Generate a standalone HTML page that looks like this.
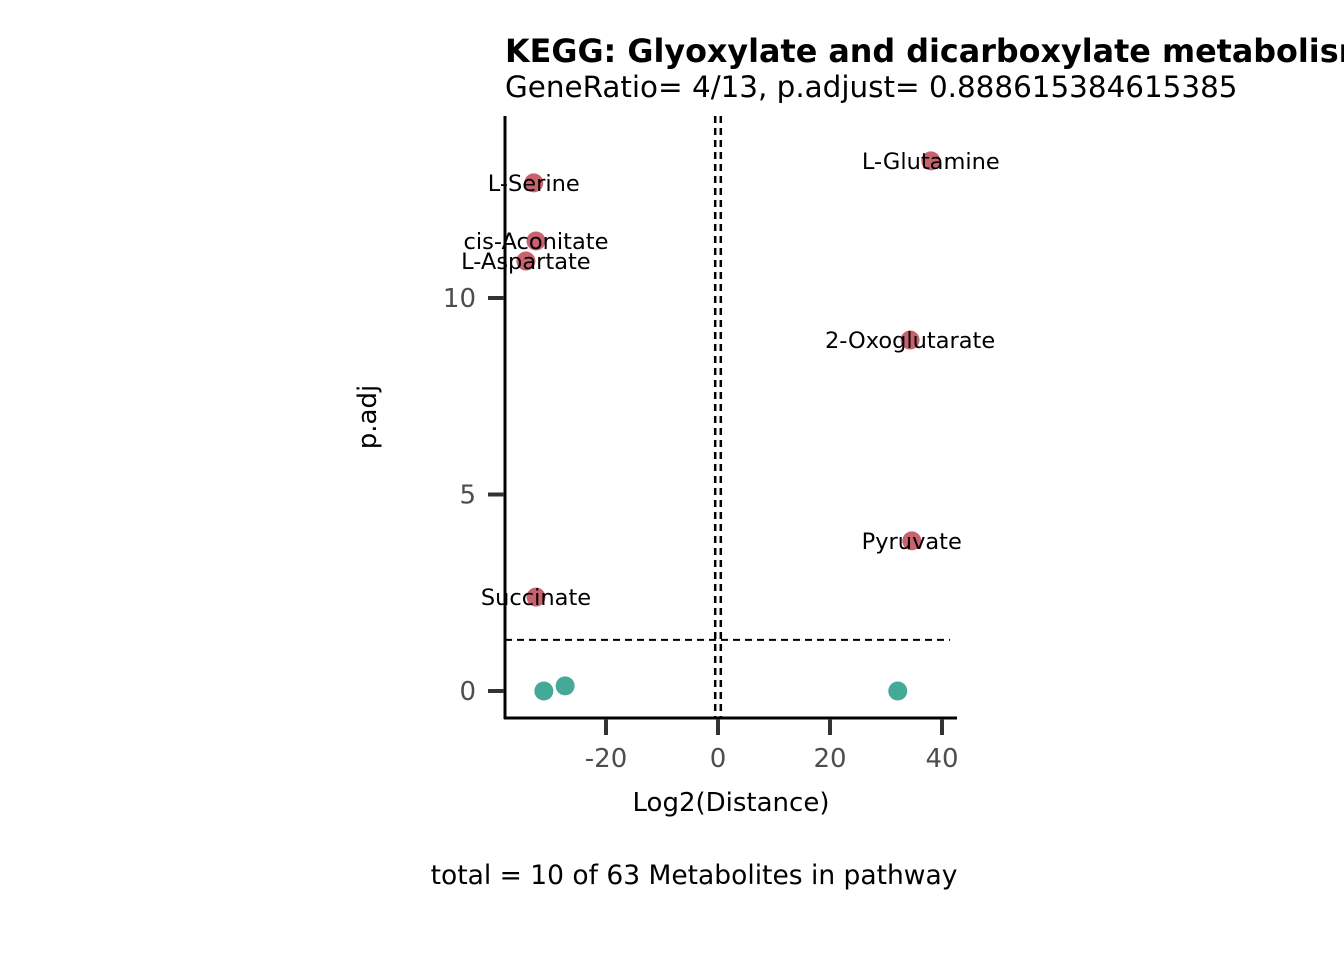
<!DOCTYPE html>
<html><head><meta charset="utf-8"><style>
body{margin:0;background:#fff;}
svg text{font-family:"DejaVu Sans","Liberation Sans",sans-serif;}
</style></head><body>
<svg id="chart" width="1344" height="960" xmlns="http://www.w3.org/2000/svg">
<rect width="1344" height="960" fill="#fff"/>
<text x="505" y="62" font-size="31.8" font-weight="bold">KEGG: Glyoxylate and dicarboxylate metabolism</text>
<text x="505" y="97" font-size="29.4">GeneRatio= 4/13, p.adjust= 0.888615384615385</text>
<g id="ref"></g>
<g id="pts"></g>
<g id="axes">
<line x1="505" y1="116" x2="505" y2="719" stroke="#000" stroke-width="3"/>
<line x1="504" y1="718" x2="957" y2="718" stroke="#000" stroke-width="3"/>
</g>
<text x="731" y="811" font-size="26" text-anchor="middle">Log2(Distance)</text>
<text transform="translate(376,417) rotate(-90)" font-size="26" text-anchor="middle">p.adj</text>
<text x="694" y="884" font-size="26.5" text-anchor="middle">total = 10 of 63 Metabolites in pathway</text>
</svg>
<script>
const names=["L-Serine","cis-Aconitate","L-Aspartate","Succinate","L-Glutamine","2-Oxoglutarate","Pyruvate","","",""];
const xVals=[-32.9,-32.5,-34.3,-32.5,38.0,34.3,34.6,-31.1,-27.3,32.1];
const yVals=[12.93,11.45,10.94,2.39,13.49,8.93,3.82,0.0,0.13,0.0];
const sig=[1,1,1,1,1,1,1,0,0,0];
const xTicks=[-20,0,20,40];
const yTicks=[0,5,10];
const hThresh=1.3, vThresh=0.5;
const X=v=>718+v*5.6, Y=v=>691-v*39.3;
const NS="http://www.w3.org/2000/svg";
function mk(t,a,p){const e=document.createElementNS(NS,t);for(const k in a)e.setAttribute(k,a[k]);p.appendChild(e);return e;}
const svg=document.getElementById('chart'),axes=document.getElementById('axes'),ref=document.getElementById('ref'),pts=document.getElementById('pts');
let l=mk('line',{x1:505,x2:950,y1:Y(hThresh),y2:Y(hThresh),stroke:'#000','stroke-width':2,'stroke-dasharray':'7,5'},ref);


[-vThresh,vThresh].forEach(v=>{const e=mk('line',{x1:X(v),x2:X(v),y1:116,y2:718,stroke:'#000','stroke-width':2.5,'stroke-dasharray':'7,5'},ref);

});
xTicks.forEach(v=>{const g=mk('g',{},axes);


mk('line',{x1:X(v),x2:X(v),y1:719,y2:735,stroke:'#333','stroke-width':4},g);
const t=mk('text',{x:X(v),y:767,'font-size':26,fill:'#4d4d4d','text-anchor':'middle'},g);t.textContent=v;});
yTicks.forEach(v=>{const g=mk('g',{},axes);


mk('line',{x1:488,x2:504,y1:Y(v),y2:Y(v),stroke:'#333','stroke-width':4},g);
const t=mk('text',{x:476,y:Y(v)+9,'font-size':26,fill:'#4d4d4d','text-anchor':'end'},g);t.textContent=v;});
xVals.forEach((v,i)=>{const c=mk('circle',{cx:X(v),cy:Y(yVals[i]),r:9.5,fill:sig[i]?'#C8626F':'#44A996'},pts);


if(names[i]){const t=mk('text',{x:X(v),y:Y(yVals[i])+8,'font-size':22.5,'text-anchor':'middle'},pts);t.textContent=names[i];

}});
</script>
</body></html>
